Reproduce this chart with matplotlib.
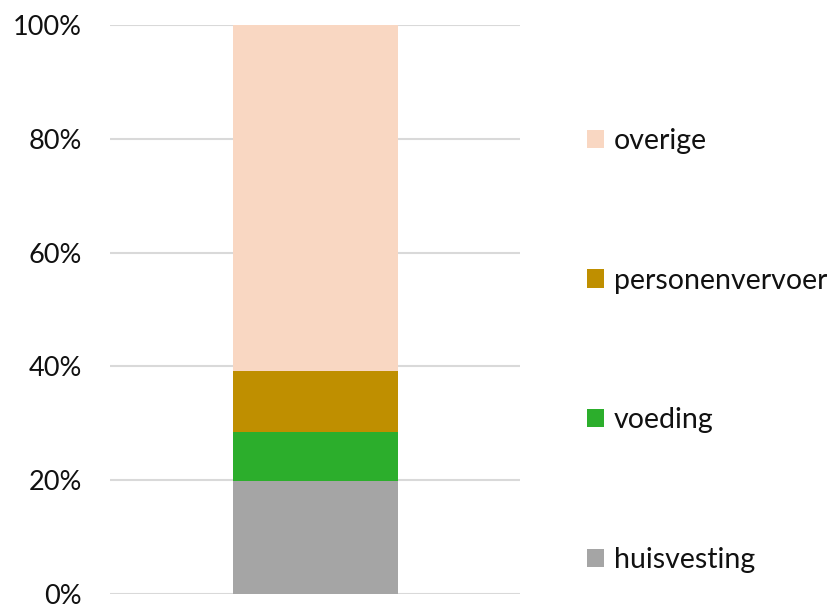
import numpy as np
import matplotlib
matplotlib.use("Agg")
import matplotlib.pyplot as plt
from matplotlib.ticker import PercentFormatter

# stacked shares (%) from bottom to top
categories = ["huisvesting", "voeding", "personenvervoer", "overige"]
shares = [19.9, 8.5, 10.8, 60.8]
colors = ["#A5A5A5", "#2CAE2C", "#BF8F00", "#F9D7C2"]
yticks = [0, 20, 40, 60, 80, 100]

plt.rcParams["font.family"] = ["Lato", "DejaVu Sans"]

fig = plt.figure(figsize=(8.27, 6.04), dpi=100)
ax = fig.add_axes([0.133, 0.017, 0.496, 0.9415])

bottom = 0
handles = []
for cat, val, col in zip(categories, shares, colors):
    b = ax.bar(0, val, bottom=bottom, width=0.402, color=col, label=cat, zorder=3)
    handles.append(b)
    bottom += val

ax.set_xlim(-0.5, 0.5)
ax.set_ylim(0, 100)
ax.set_yticks(yticks)
ax.yaxis.set_major_formatter(PercentFormatter(decimals=0))
ax.set_xticks([])
ax.tick_params(axis="y", length=0, pad=20, labelsize=19.5, labelcolor="#111111")
ax.grid(axis="y", color="#D9D9D9", linewidth=1.5, zorder=0)
for s in ax.spines.values():
    s.set_visible(False)

fig.legend(handles[::-1], categories[::-1], loc="center left",
           bbox_to_anchor=(0.710, 0.420), frameon=False, fontsize=20.5,
           labelspacing=3.99, handlelength=0.6, handleheight=0.6,
           handletextpad=0.33, borderpad=0, borderaxespad=0,
           labelcolor="#111111")

fig.savefig("out.png", dpi=100)
